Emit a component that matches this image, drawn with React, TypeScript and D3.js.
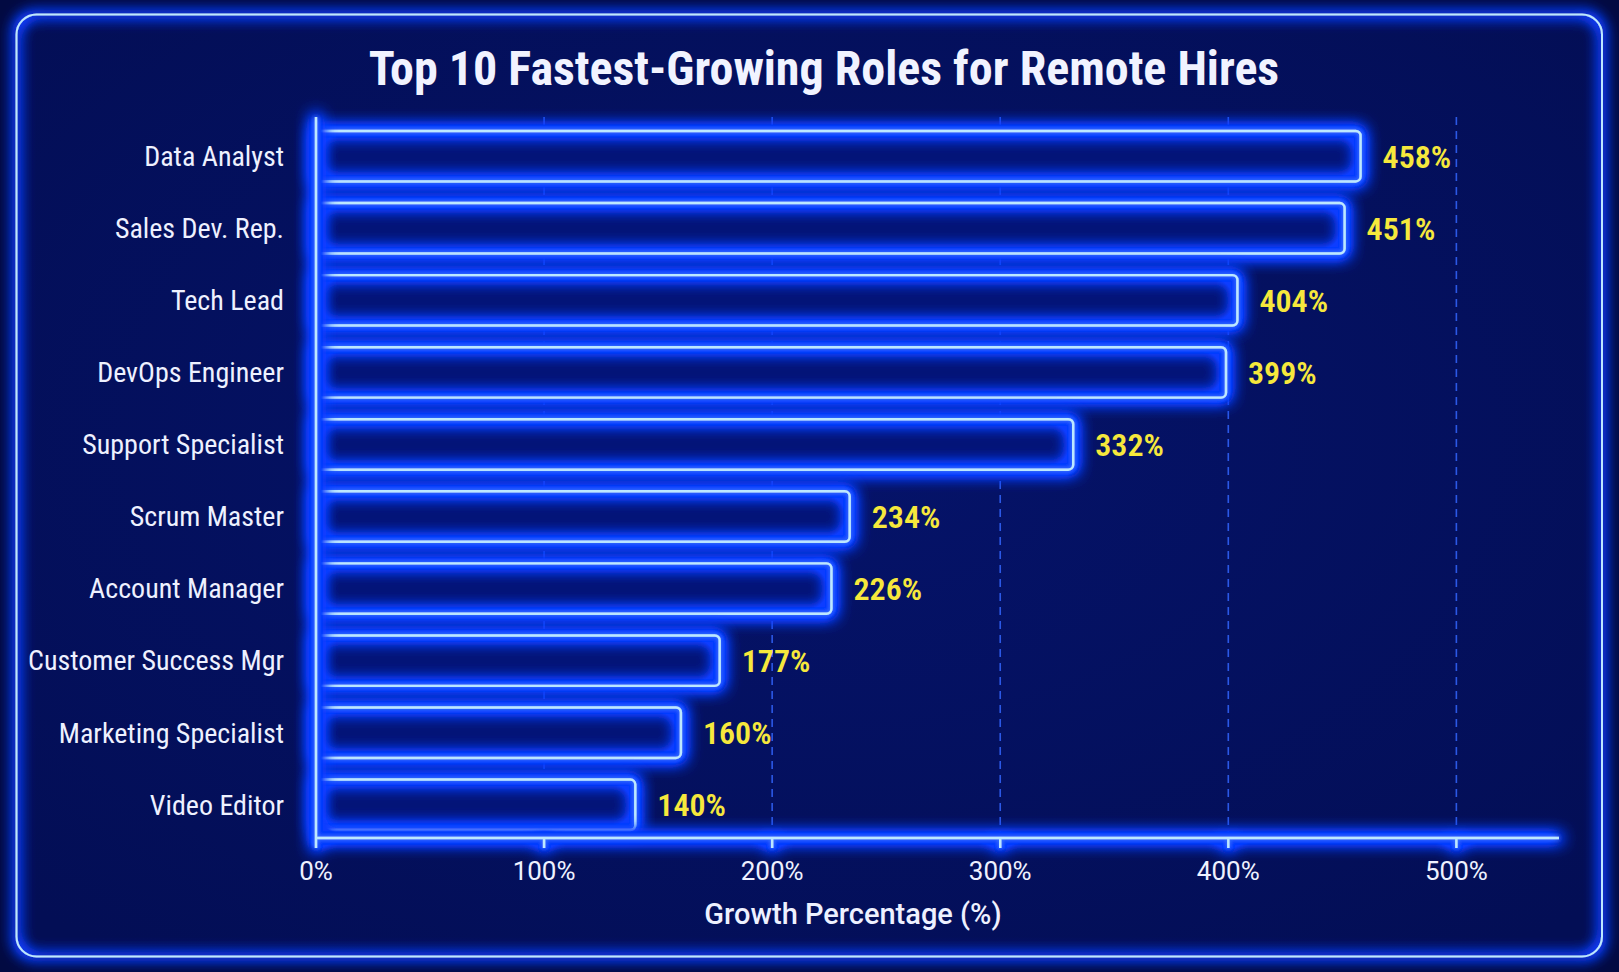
import * as d3 from 'd3'

const W = 1619
const H = 972

// Roles and their growth in percent, top to bottom
const roles = [
  'Data Analyst',
  'Sales Dev. Rep.',
  'Tech Lead',
  'DevOps Engineer',
  'Support Specialist',
  'Scrum Master',
  'Account Manager',
  'Customer Success Mgr',
  'Marketing Specialist',
  'Video Editor',
]
const growth = [458, 451, 404, 399, 332, 234, 226, 177, 160, 140]
const xTicks = [0, 100, 200, 300, 400, 500]

const FONT = "'Roboto Condensed', 'DejaVu Sans Condensed', Roboto, sans-serif"
const FONT_WIDE = "Roboto, 'Noto Sans', sans-serif"

const NEON = '#bce8ff'
const GLOW = '#0b3dff'

export default function App() {
  const x = d3.scaleLinear().domain([0, 545]).range([316, 1559])
  const y = d3.scaleBand<string>().domain(roles).range([131, 830]).paddingInner(0.3).paddingOuter(0)
  const axisY = 838
  const plotTop = 117

  return (
    <div style={{ position: 'fixed', left: 0, top: 0, width: W, height: H }}>
      <svg width={W} height={H} style={{ display: 'block' }}>
        <defs>
          {/* neon halo: dilated + blurred alpha, boosted, tinted blue */}
          <filter id="glow" x="-10%" y="-60%" width="120%" height="220%">
            <feMorphology in="SourceAlpha" operator="dilate" radius="2.5" result="fat" />
            <feGaussianBlur in="fat" stdDeviation="8" result="wide" />
            <feComponentTransfer in="wide" result="wideBoost">
              <feFuncA type="linear" slope="2.8" />
            </feComponentTransfer>
            <feFlood floodColor={GLOW} />
            <feComposite in2="wideBoost" operator="in" result="haloWide" />
            <feGaussianBlur in="SourceAlpha" stdDeviation="2" result="tight" />
            <feFlood floodColor="#4485ff" />
            <feComposite in2="tight" operator="in" result="haloTight" />
            <feMerge>
              <feMergeNode in="haloWide" />
              <feMergeNode in="haloTight" />
              <feMergeNode in="SourceGraphic" />
            </feMerge>
          </filter>
          <filter id="soft" x="-5%" y="-5%" width="110%" height="110%">
            <feMorphology in="SourceAlpha" operator="dilate" radius="1.5" result="fat" />
            <feGaussianBlur in="fat" stdDeviation="7" result="blur" />
            <feComponentTransfer in="blur" result="boost">
              <feFuncA type="linear" slope="2" />
            </feComponentTransfer>
            <feFlood floodColor={GLOW} />
            <feComposite in2="boost" operator="in" result="halo" />
            <feMerge>
              <feMergeNode in="halo" />
              <feMergeNode in="SourceGraphic" />
            </feMerge>
          </filter>
          <radialGradient id="panel" cx="50%" cy="45%" r="70%">
            <stop offset="0%" stopColor="#05136a" />
            <stop offset="100%" stopColor="#030e55" />
          </radialGradient>
        </defs>

        {/* page + panel */}
        <rect x={0} y={0} width={W} height={H} fill="#020a42" />
        <rect x={16.5} y={14.5} width={1585.5} height={942} rx={20} fill="url(#panel)" />
        <rect x={16.5} y={14.5} width={1585.5} height={942} rx={20} fill="none" stroke={NEON} strokeWidth={2} filter="url(#soft)" />

        <text x={824} y={85} textAnchor="middle" fill="#f1f3ff" fontFamily={FONT} fontWeight={700} fontSize={48}>
          Top 10 Fastest-Growing Roles for Remote Hires
        </text>

        {/* dashed gridlines */}
        {xTicks.slice(1).map(t => (
          <line key={t} x1={x(t)} x2={x(t)} y1={plotTop} y2={axisY} stroke="#3060f5" strokeWidth={1.6} strokeDasharray="8 6" opacity={0.9} />
        ))}

        {/* bars */}
        {roles.map((r, i) => {
          const y0 = y(r)!
          const bw = y.bandwidth()
          const x1 = x(growth[i])
          return (
            <g key={r}>
              <rect x={x(0)} y={y0} width={x1 - x(0)} height={bw} rx={5} fill="#031478" />
              <rect x={x(0)} y={y0} width={x1 - x(0)} height={bw} rx={5} fill="none" stroke={NEON} strokeWidth={2.4} filter="url(#glow)" />
              <text x={284} y={y0 + bw / 2} dy="0.35em" textAnchor="end" fill="#eef1ff" fontFamily={FONT} fontSize={28}>
                {r}
              </text>
              <text x={x1 + 22} y={y0 + bw / 2} dy="0.36em" fill="#f6e83c" fontFamily={FONT} fontWeight={600} fontSize={32}>
                {growth[i]}%
              </text>
            </g>
          )
        })}

        {/* axes */}
        <g filter="url(#glow)" stroke={NEON} strokeWidth={2.4}>
          <line x1={x(0)} x2={x(0)} y1={plotTop} y2={axisY + 10} />
          <line x1={x(0)} x2={1559} y1={axisY} y2={axisY} />
          {xTicks.slice(1).map(t => (
            <line key={t} x1={x(t)} x2={x(t)} y1={axisY} y2={axisY + 10} />
          ))}
        </g>
        {xTicks.map(t => (
          <text key={t} x={x(t)} y={880} textAnchor="middle" fill="#eef1ff" fontFamily={FONT_WIDE} fontSize={26}>
            {t}%
          </text>
        ))}
        <text x={853} y={924} textAnchor="middle" fill="#eef1ff" fontFamily={FONT_WIDE} fontWeight={500} fontSize={29}>
          Growth Percentage (%)
        </text>
      </svg>
    </div>
  )
}
